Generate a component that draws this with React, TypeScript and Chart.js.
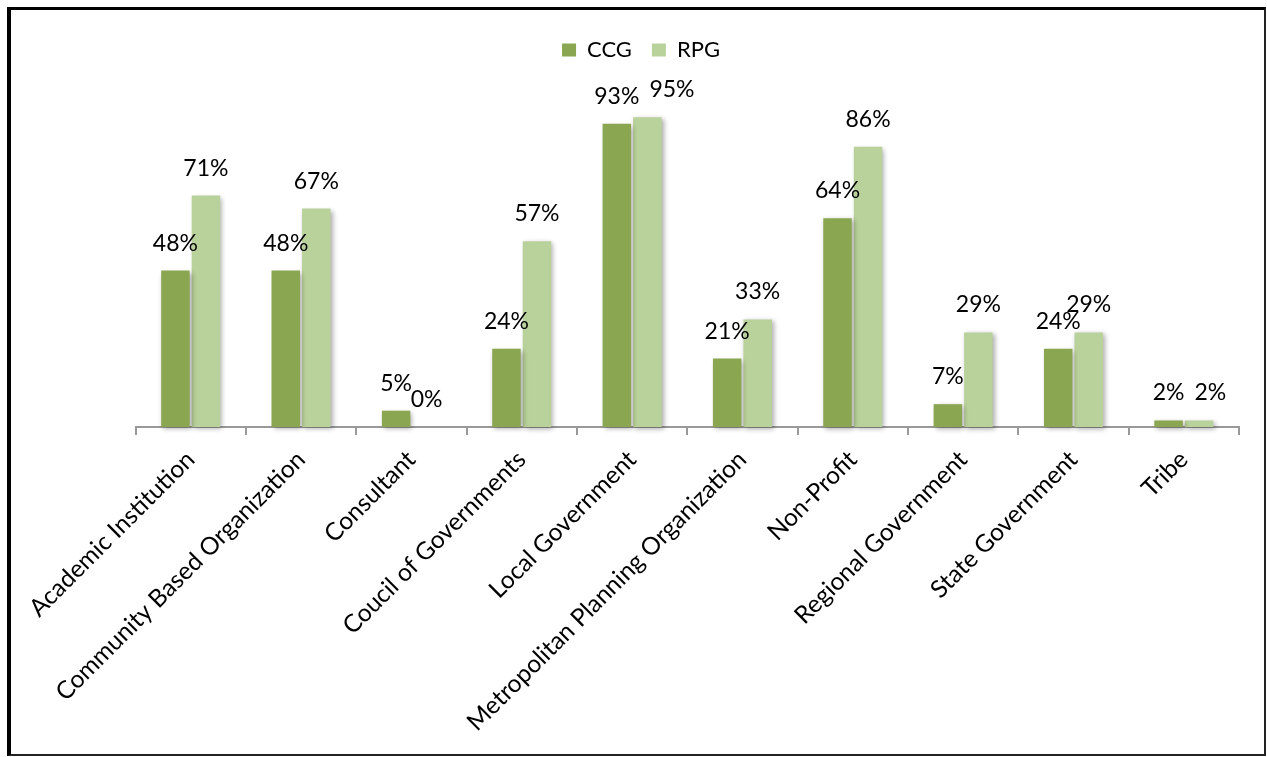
import React, { useEffect, useRef } from 'react';
import { Chart, registerables } from 'chart.js';

Chart.register(...registerables);

const categories = [
  'Academic Institution',
  'Community Based Organization',
  'Consultant',
  'Coucil of Governments',
  'Local Government',
  'Metropolitan Planning Organization',
  'Non-Profit',
  'Regional Government',
  'State Government',
  'Tribe',
];
const seriesNames = ['CCG', 'RPG'];
const ccgValues = [48, 48, 5, 24, 93, 21, 64, 7, 24, 2];
const rpgValues = [71, 67, 0, 57, 95, 33, 86, 29, 29, 2];

const FONT = 'Lato';
const CCG_COLOR = '#8AA650';
const RPG_COLOR = '#B9D19A';

const legendSpacer = {
  id: 'legendSpacer',
  beforeLayout(chart: any) {
    const lg = chart.legend;
    if (lg && !lg.__spaced) {
      const f = lg.fit;
      lg.fit = function () {
        f.call(this);
        this.height += 30;
      };
      lg.__spaced = true;
    }
  },
};

const barShadow = {
  id: 'barShadow',
  beforeDatasetsDraw(chart: any) {
    const c = chart.ctx;
    c.save();
    c.shadowColor = 'rgba(0,0,0,0.33)';
    c.shadowBlur = 5;
    c.shadowOffsetX = 2;
    c.shadowOffsetY = 2;
  },
  afterDatasetsDraw(chart: any) {
    chart.ctx.restore();
  },
};

const dataLabels = {
  id: 'dataLabels',
  afterDatasetsDraw(chart: any) {
    const ctx = chart.ctx;
    ctx.save();
    ctx.font = `23px ${FONT}`;
    ctx.fillStyle = '#000';
    ctx.textAlign = 'left';
    ctx.textBaseline = 'alphabetic';
    const n = chart.data.labels.length;
    const metas = chart.data.datasets.map((_: any, di: number) => chart.getDatasetMeta(di));
    for (let i = 0; i < n; i++) {
      let prev: any = null;
      chart.data.datasets.forEach((ds: any, di: number) => {
        const bar = metas[di].data[i];
        const text = `${ds.data[i]}%`;
        const w = ctx.measureText(text).width;
        const base = bar.y - 20;
        let left = bar.x - w / 2;
        const top = base - 16.5;
        if (prev) {
          const xOverlap = prev.right - left;
          const yOverlap = Math.min(prev.base, base) - Math.max(prev.top, top);
          if (xOverlap > 0 && yOverlap > 3) {
            left = prev.right + 10;
          }
        }
        ctx.fillText(text, left, base);
        prev = { right: left + w, base, top };
      });
    }
    ctx.restore();
  },
};

export default function App() {
  const ref = useRef<HTMLCanvasElement>(null);
  useEffect(() => {
    const chart = new Chart(ref.current as HTMLCanvasElement, {
      type: 'bar',
      data: {
        labels: categories,
        datasets: [
          {
            label: seriesNames[0],
            data: ccgValues,
            backgroundColor: CCG_COLOR,
            borderWidth: 0,
            categoryPercentage: 0.553,
            barPercentage: 0.934,
            clip: false as any,
          },
          {
            label: seriesNames[1],
            data: rpgValues,
            backgroundColor: RPG_COLOR,
            borderWidth: 0,
            categoryPercentage: 0.553,
            barPercentage: 0.934,
            clip: false as any,
          },
        ],
      },
      options: {
        animation: false,
        responsive: false,
        devicePixelRatio: 1,
        layout: { padding: { left: 32, right: 25, top: 9, bottom: 0 } },
        plugins: {
          legend: {
            position: 'top',
            align: 'center',
            labels: {
              font: { family: FONT, size: 22 },
              color: '#000',
              boxWidth: 14,
              boxHeight: 13,
              padding: 20,
            },
          },
          tooltip: { enabled: false },
        },
        scales: {
          x: {
            grid: {
              display: true,
              drawOnChartArea: false,
              drawTicks: true,
              tickLength: 8,
              color: '#999',
              lineWidth: 2,
              offset: true,
            },
            border: { display: true, color: '#999', width: 2 },
            ticks: {
              font: { family: FONT, size: 24.5 },
              color: '#000',
              minRotation: 45,
              maxRotation: 45,
              autoSkip: false,
              padding: 10,
            },
            afterFit: (s: any) => {
              s.height = 327;
            },
          },
          y: {
            min: 0,
            max: 100,
            display: true,
            grid: { display: false },
            border: { display: false },
            ticks: { display: false },
            afterFit: (s: any) => {
              s.width = 92.5;
            },
          },
        },
      },
      plugins: [legendSpacer, barShadow, dataLabels],
    } as any);
    return () => chart.destroy();
  }, []);

  return (
    <div
      style={{
        position: 'absolute',
        left: 7,
        top: 7,
        width: 1259,
        height: 749,
        boxSizing: 'border-box',
        borderLeft: '4px solid #000',
        borderTop: '3px solid #000',
        borderRight: '2px solid #222',
        borderBottom: '2px solid #222',
        background: '#fff',
      }}
    >
      <canvas ref={ref} width={1253} height={744} style={{ display: 'block', width: 1253, height: 744 }} />
    </div>
  );
}
